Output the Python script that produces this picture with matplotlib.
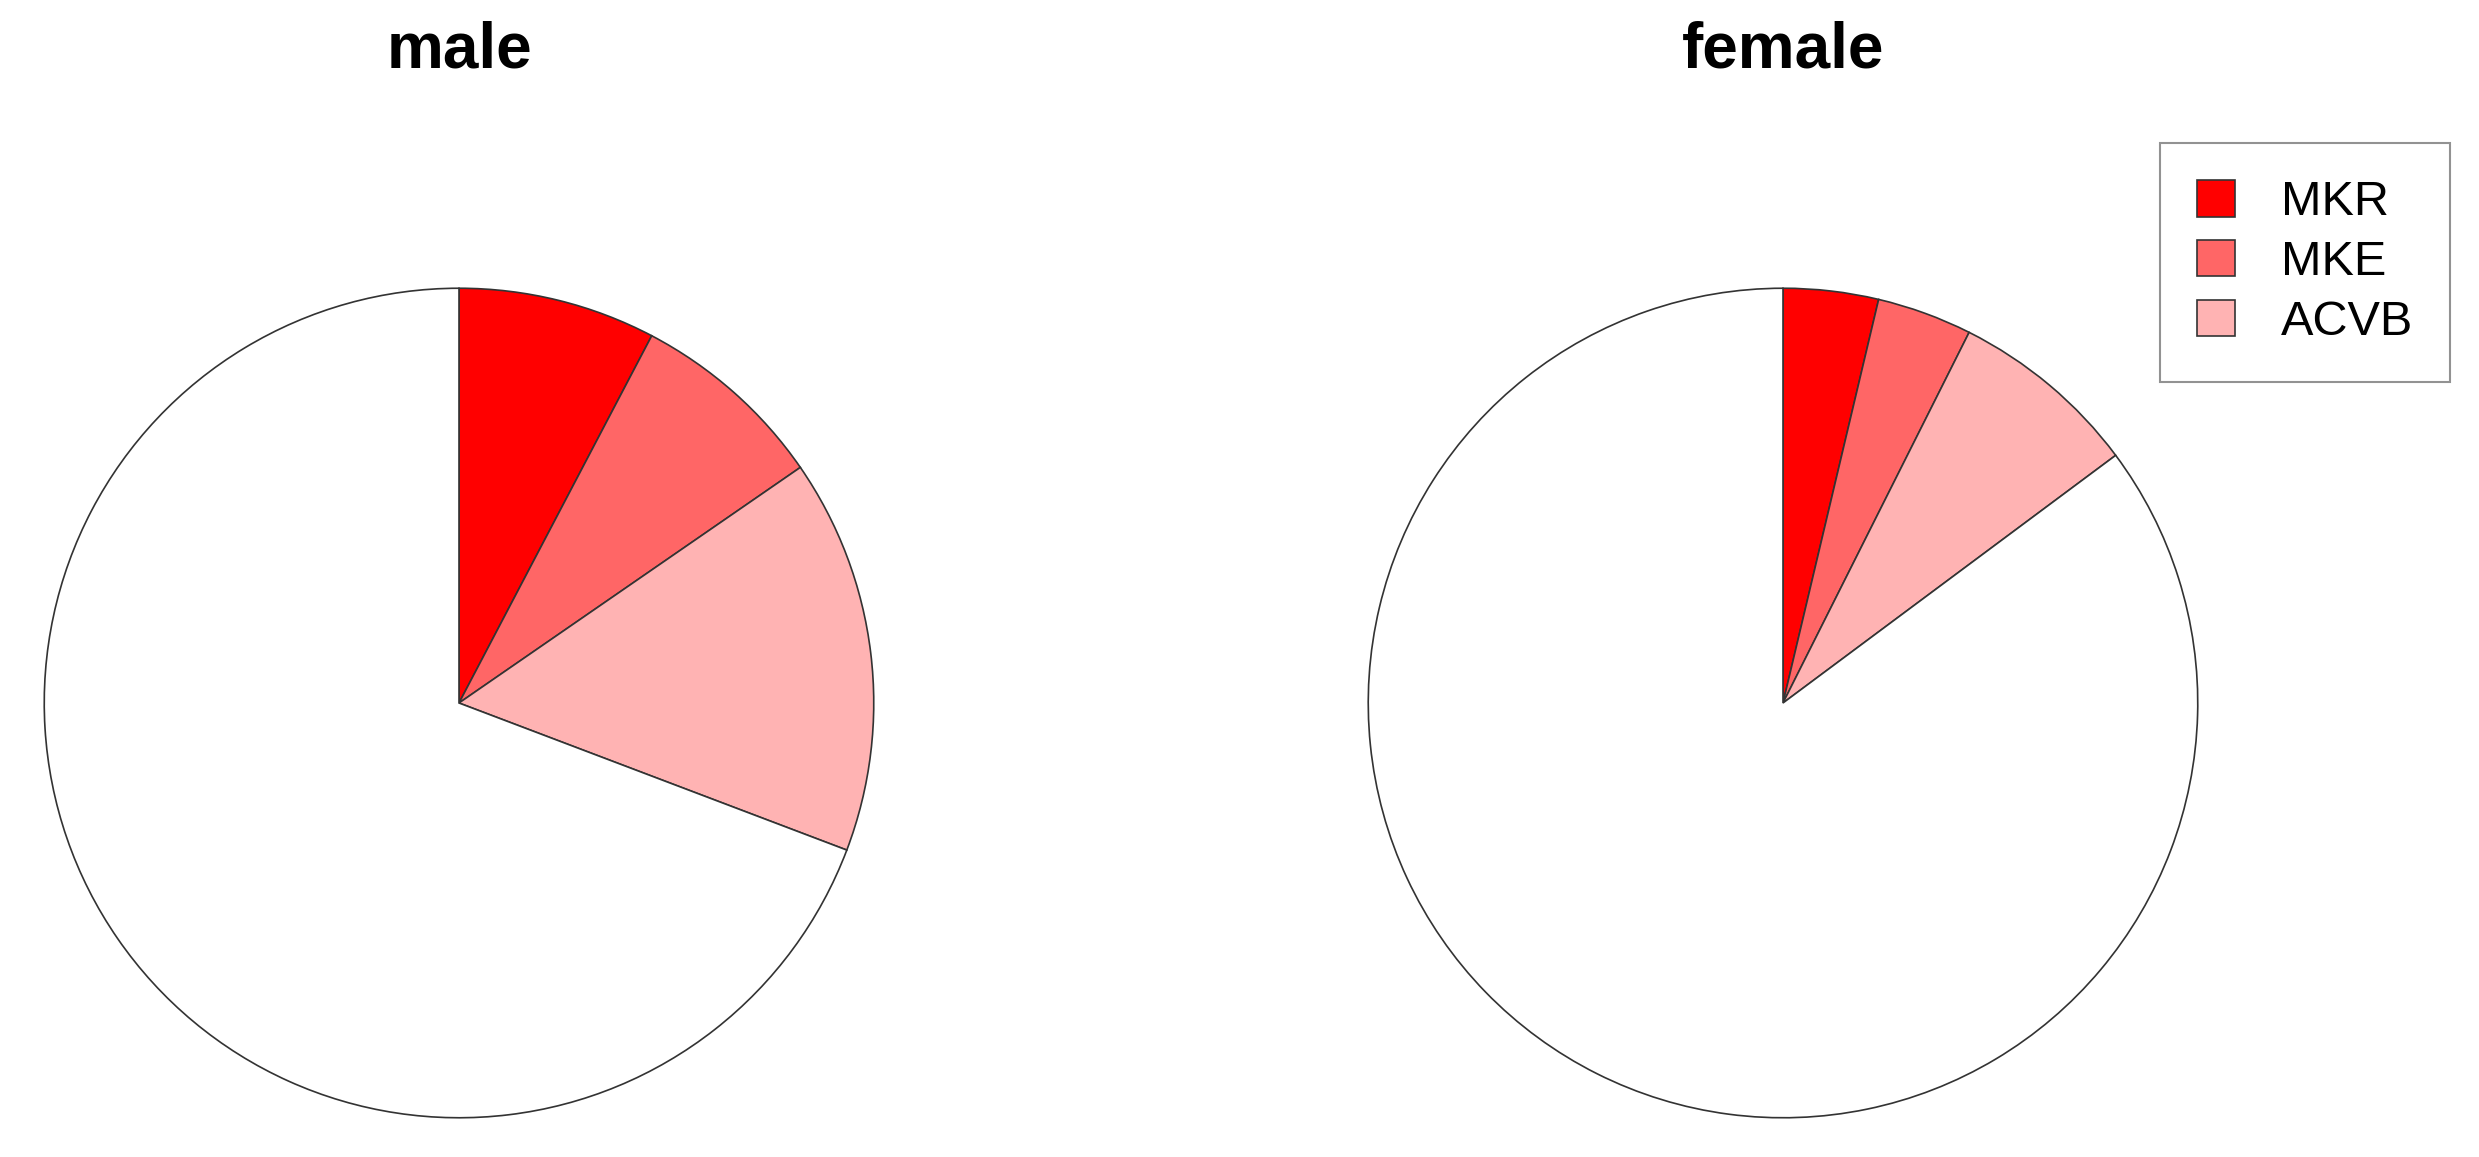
import matplotlib
matplotlib.use("Agg")
import matplotlib.pyplot as plt

plt.rcParams['font.family'] = ['Liberation Sans', 'DejaVu Sans']

# counts
labels = ['MKR', 'MKE', 'ACVB', 'other']
male_counts = [1, 1, 2, 9]
female_counts = [1, 1, 2, 23]
colors = ['#FF0000', '#FF6666', '#FFB3B3', '#FFFFFF']
groups = ['male', 'female']

W, H = 2479, 1157
fig = plt.figure(figsize=(W / 100, H / 100), dpi=100)

r = 416
centers = [(459, 703), (1783, 703)]
wedge_sets = []
for (cx, cy), counts, name in zip(centers, [male_counts, female_counts], groups):
    ax = fig.add_axes([(cx - r) / W, (H - cy - r) / H, 2 * r / W, 2 * r / H])
    wedges, _ = ax.pie(counts, colors=colors, startangle=90, counterclock=False,
                       radius=1, wedgeprops=dict(edgecolor='#333333', linewidth=1.2))
    ax.set_xlim(-1.003, 1.003)
    ax.set_ylim(-1.003, 1.003)
    ax.set_aspect('equal')
    ax.axis('off')
    # title sits on its baseline
    fig.text(cx / W, 1 - 68 / H, name, ha='center', va='baseline',
             fontsize=46, fontweight='bold')
    wedge_sets.append(wedges)

leg = fig.legend(wedge_sets[0][:3], labels[:3], loc='upper left',
                 bbox_to_anchor=(2160 / W, 1 - 143 / H), fontsize=35,
                 frameon=True, fancybox=False, edgecolor='#777777',
                 handlelength=0.78, handleheight=0.78, handletextpad=0.95,
                 labelspacing=0.30, borderpad=0.76, borderaxespad=0)
leg.get_frame().set_linewidth(1.5)

plt.savefig('out.png', dpi=100, facecolor='white')
